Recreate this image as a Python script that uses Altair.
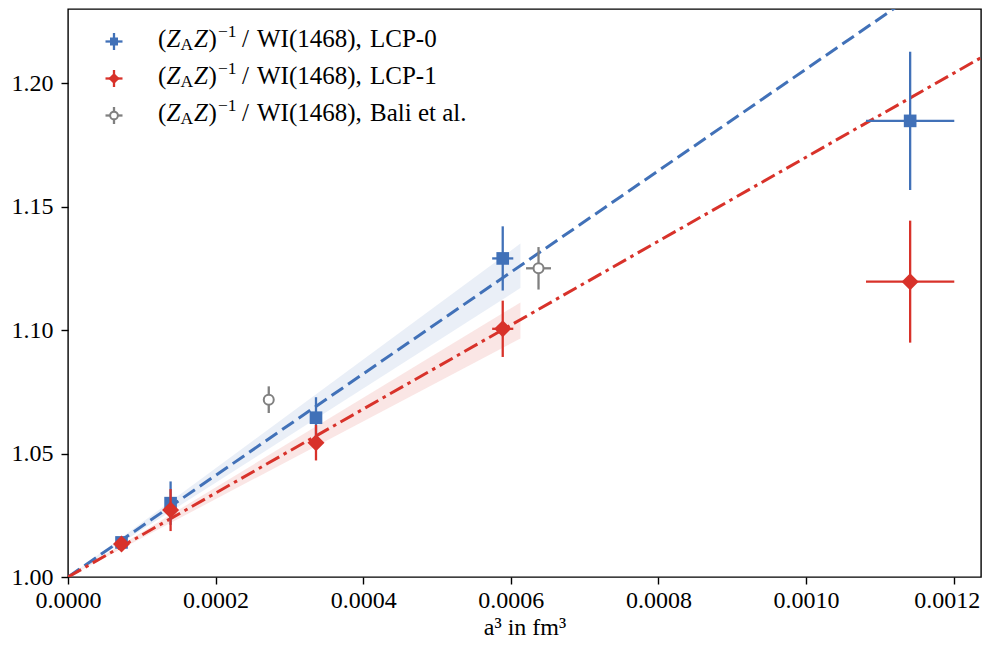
import altair as alt
import pandas as pd

# ---------------- data ----------------
a3_lcp = [0.0000725, 0.000139, 0.000336, 0.000589, 0.001141]
a3_lcp_err = [0.0000017, 0.0000033, 0.000008, 0.0000143, 0.0000598]
lcp0_val = [1.0140, 1.0299, 1.0645, 1.1290, 1.1847]
lcp0_err = [0.0012, 0.0088, 0.0083, 0.0130, 0.0280]
lcp1_val = [1.0134, 1.0271, 1.0544, 1.1005, 1.1196]
lcp1_err = [0.0012, 0.0085, 0.0072, 0.0114, 0.0247]
bali_a3 = [0.000272, 0.0006375]
bali_a3_err = [0.000003, 0.0000169]
bali_val = [1.0718, 1.1250]
bali_err = [0.0054, 0.0086]

fit_x = [0.0, 0.00125]
lcp0_fit = [1.0, 1.2571]
lcp1_fit = [1.0, 1.2125]
band_x = [0.0, 0.000613]
lcp0_band_lo = [1.0, 1.1170]
lcp0_band_hi = [1.0, 1.1350]
lcp1_band_lo = [1.0, 1.0966]
lcp1_band_hi = [1.0, 1.1112]

x_ticks = [0.0, 0.0002, 0.0004, 0.0006, 0.0008, 0.0010, 0.0012]
y_ticks = [1.00, 1.05, 1.10, 1.15, 1.20]
series_labels = ["LCP-0", "LCP-1", "Bali et al."]

# ---------------- styling ----------------
BLUE = "#4171B8"
RED = "#D8322A"
GRAY = "#808080"
FONT = "Liberation Serif"
F = 24
LF = 25
LFS = 17.5

xscale = alt.Scale(domain=[0, 0.001237], nice=False, zero=False)
yscale = alt.Scale(domain=[1.0, 1.23], nice=False, zero=False)
xaxis = alt.Axis(
    values=x_ticks, format=".4f", title="a³ in fm³", labelPadding=4,
    titleY=57, titleBaseline="alphabetic",
    labelFlush=False, labelOverlap=False,
    labelOffset={"condition": {"test": "datum.value > 0.00119", "value": -7}, "value": 0},
)
yaxis = alt.Axis(values=y_ticks, format=".2f", title=None, labelPadding=8, labelFlush=False)


def X(field):
    return alt.X(field, type="quantitative", scale=xscale, axis=xaxis)


def Y(field):
    return alt.Y(field, type="quantitative", scale=yscale, axis=yaxis)


def points_df(xs, xe, ys, ye):
    return pd.DataFrame({
        "x": xs, "y": ys,
        "xlo": [a - b for a, b in zip(xs, xe)], "xhi": [a + b for a, b in zip(xs, xe)],
        "ylo": [a - b for a, b in zip(ys, ye)], "yhi": [a + b for a, b in zip(ys, ye)],
    })


df0 = points_df(a3_lcp, a3_lcp_err, lcp0_val, lcp0_err)
df1 = points_df(a3_lcp, a3_lcp_err, lcp1_val, lcp1_err)
dfb = points_df(bali_a3, bali_a3_err, bali_val, bali_err)

fit_df = pd.DataFrame({"x": fit_x, "y0": lcp0_fit, "y1": lcp1_fit})
band_df = pd.DataFrame({"x": band_x, "lo0": lcp0_band_lo, "hi0": lcp0_band_hi,
                        "lo1": lcp1_band_lo, "hi1": lcp1_band_hi})

layers = []
layers.append(alt.Chart(band_df).mark_area(color=BLUE, opacity=0.11).encode(x=X("x"), y=Y("lo0"), y2="hi0"))
layers.append(alt.Chart(band_df).mark_area(color=RED, opacity=0.12).encode(x=X("x"), y=Y("lo1"), y2="hi1"))
layers.append(alt.Chart(fit_df).mark_line(color=BLUE, strokeWidth=3, strokeDash=[14, 6], clip=True)
              .encode(x=X("x"), y=Y("y0")))
layers.append(alt.Chart(fit_df).mark_line(color=RED, strokeWidth=3, strokeDash=[15, 5, 3.5, 5], clip=True)
              .encode(x=X("x"), y=Y("y1")))


def series_layers(df, color, marker):
    out = [
        alt.Chart(df).mark_rule(color=color, strokeWidth=2.3).encode(x=X("x"), y=Y("ylo"), y2="yhi"),
        alt.Chart(df).mark_rule(color=color, strokeWidth=2.3).encode(x=X("xlo"), x2="xhi", y=Y("y")),
    ]
    out.append(alt.Chart(df).mark_point(**marker).encode(x=X("x"), y=Y("y")))
    return out


sq = dict(shape="square", filled=True, color=BLUE, size=160, opacity=1)
di = dict(shape="diamond", filled=True, color=RED, size=290, opacity=1)
ci = dict(shape="circle", filled=True, fill="white", stroke=GRAY, strokeWidth=2, size=100, opacity=1)

layers += series_layers(df0, BLUE, sq)
layers += series_layers(df1, RED, di)
layers += series_layers(dfb, GRAY, ci)

# ---------------- hand-made legend (pixel layout, relative to plot origin) ----------------
one = pd.DataFrame({"k": [0]})
mx = 46
row_c = [32.5, 69.5, 106.5]
row_b = [37.5, 74.5, 111.5]
colors = [BLUE, RED, GRAY]
lmarks = [
    dict(shape="square", filled=True, color=BLUE, size=64, opacity=1),
    dict(shape="diamond", filled=True, color=RED, size=125, opacity=1),
    dict(shape="circle", filled=True, fill="white", stroke=GRAY, strokeWidth=2, size=60, opacity=1),
]
for i in range(3):
    c = colors[i]
    yc = row_c[i]
    yb = row_b[i]
    layers.append(alt.Chart(one).mark_rule(color=c, strokeWidth=2.3).encode(
        x=alt.value(mx), y=alt.value(yc - 8.5), y2=alt.value(yc + 8.5)))
    layers.append(alt.Chart(one).mark_rule(color=c, strokeWidth=2.3).encode(
        x=alt.value(mx - 8.5), x2=alt.value(mx + 8.5), y=alt.value(yc)))
    layers.append(alt.Chart(one).mark_point(**lmarks[i]).encode(x=alt.value(mx), y=alt.value(yc)))
    pieces = [
        (90, 0, "(", LF, "normal"),
        (98.5, 0, "Z", LF, "italic"),
        (112.5, 3.5, "A", LFS, "normal"),
        (126, 0, "Z", LF, "italic"),
        (140.5, 0, ")", LF, "normal"),
        (150, -9.5, "−1", LFS, "normal"),
        (174, 0, "/", LF, "normal"),
        (189, 0, "WI(1468),", LF, "normal"),
        (302, 0, series_labels[i], LF, "normal"),
    ]
    for px, dy, txt, fs, st in pieces:
        layers.append(alt.Chart(one).mark_text(
            text=txt, font=FONT, fontSize=fs, fontStyle=st, align="left", baseline="alphabetic",
            color="black").encode(x=alt.value(px), y=alt.value(yb + dy)))

chart = alt.layer(*layers).properties(
    width=913, height=568,
    autosize=alt.AutoSizeParams(type="none"),
    padding={"left": 60, "top": 1, "right": 1, "bottom": 61},
).configure_view(stroke="black", strokeWidth=1.4).configure_axis(
    labelFont=FONT, labelFontSize=F, labelColor="black",
    titleFont=FONT, titleFontSize=F, titleFontWeight="normal", titleColor="black",
    tickColor="black", tickSize=7, tickWidth=1.4, domain=False, grid=False,
)

chart.save("out.html", embed_options={"renderer": "svg", "actions": False})
